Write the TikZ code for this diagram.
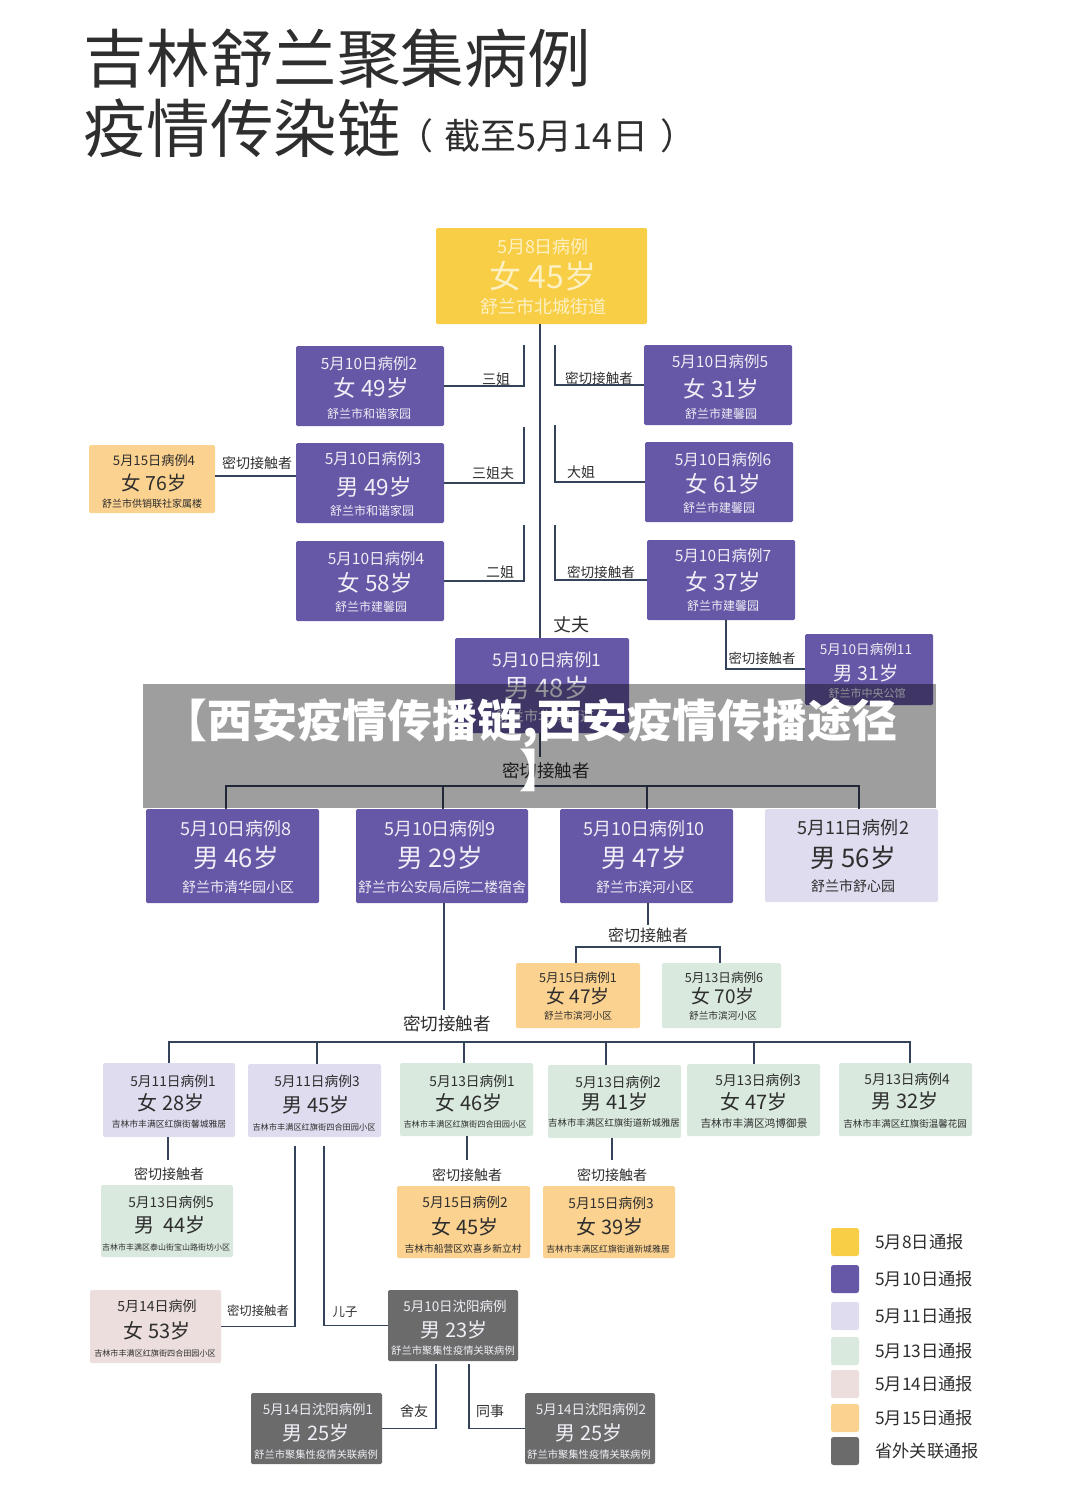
\documentclass[tikz,border=0pt]{standalone}
\usepackage{fontspec}
\setmainfont{Noto Sans CJK SC}
\usetikzlibrary{calc}
\definecolor{cyel}{HTML}{F8CE46}
\definecolor{cpur}{HTML}{6658A6}
\definecolor{clav}{HTML}{DEDCEE}
\definecolor{cgrn}{HTML}{D9E9DE}
\definecolor{cpnk}{HTML}{EBDEDC}
\definecolor{corg}{HTML}{FBD28F}
\definecolor{cgry}{HTML}{6B6B6B}
\definecolor{cline}{HTML}{34425A}
\definecolor{ctxt}{HTML}{2E2E2E}
\definecolor{cwht}{HTML}{F0EEF6}
\definecolor{cywt}{HTML}{FDF1C4}
\tikzset{
 boxb/.style={inner sep=0pt,outer sep=0pt,rounded corners=1.5pt,anchor=north west},
 conn/.style={draw=cline,line width=1.6pt,line join=miter},
 tag/.style={inner sep=0pt,outer sep=0pt,text=ctxt},
 dk/.style={text=ctxt},
 wh/.style={text=cwht},
 yw/.style={text=cywt}
}
% box: name x1 y1 x2 y2 fill
\newcommand{\cbox}[6]{\node[boxb,fill=#6,minimum width={(#4-#2)*1pt},minimum height={(#5-#3)*1pt}] (#1) at (#2,#3) {};}
% text: name style cx y size text
\newcommand{\ctx}[6]{\node[inner sep=0pt,outer sep=0pt,#2,font=\fontsize{#5}{#5}\selectfont] (#1) at (#3,#4) {#6};}
% label: name x y size text
\newcommand{\lab}[5]{\node[tag,font=\fontsize{#4}{#4}\selectfont] (#1) at (#2,#3) {#5};}
\begin{document}
\begin{tikzpicture}[x=1pt,y=-1pt]
\useasboundingbox (0,0) rectangle (1080,1494);
% title
\node[inner sep=0pt,text=ctxt,anchor=west,font=\fontsize{63.5}{63.5}\selectfont] (t1) at (83,59) {吉林舒兰聚集病例};
\node[inner sep=0pt,text=ctxt,anchor=west,font=\fontsize{63.5}{63.5}\selectfont] (t2) at (83,128) {疫情传染链};
\node[inner sep=0pt,text=ctxt,anchor=west,font=\fontsize{36}{36}\selectfont] (t3) at (397,136) {（\hspace{11pt}截至5月14日\hspace{12pt}）};
% boxes
\cbox{a0}{436}{228}{647}{324}{cyel}
\ctx{a0a}{yw}{543}{247}{18}{5月8日病例}
\ctx{a0b}{yw}{543}{276}{32}{女 45岁}
\ctx{a0c}{yw}{543}{307}{18}{舒兰市北城街道}
\cbox{n2}{296}{346}{444}{426}{cpur}
\ctx{n2a}{wh}{369}{364}{15.5}{5月10日病例2}
\ctx{n2b}{wh}{371}{388}{22.5}{女 49岁}
\ctx{n2c}{wh}{369}{414}{12}{舒兰市和谐家园}
\cbox{n3}{296}{443}{444}{523}{cpur}
\ctx{n3a}{wh}{373}{459}{15.5}{5月10日病例3}
\ctx{n3b}{wh}{374}{487}{22.5}{男 49岁}
\ctx{n3c}{wh}{372}{511}{12}{舒兰市和谐家园}
\cbox{n4}{296}{541}{444}{621}{cpur}
\ctx{n4a}{wh}{376}{559}{15.5}{5月10日病例4}
\ctx{n4b}{wh}{375}{583}{22.5}{女 58岁}
\ctx{n4c}{wh}{371}{607}{12}{舒兰市建馨园}
\cbox{n5}{644}{345}{792}{425}{cpur}
\ctx{n5a}{wh}{720}{362}{15.5}{5月10日病例5}
\ctx{n5b}{wh}{721}{389}{22.5}{女 31岁}
\ctx{n5c}{wh}{721}{414}{12}{舒兰市建馨园}
\cbox{n6}{645}{442}{793}{522}{cpur}
\ctx{n6a}{wh}{723}{460}{15.5}{5月10日病例6}
\ctx{n6b}{wh}{723}{484}{22.5}{女 61岁}
\ctx{n6c}{wh}{719}{508}{12}{舒兰市建馨园}
\cbox{n7}{647}{540}{795}{620}{cpur}
\ctx{n7a}{wh}{723}{556}{15.5}{5月10日病例7}
\ctx{n7b}{wh}{723}{582}{22.5}{女 37岁}
\ctx{n7c}{wh}{723}{606}{12}{舒兰市建馨园}
\cbox{n11}{805}{634}{933}{705}{cpur}
\ctx{n11a}{wh}{866}{649}{13.6}{5月10日病例11}
\ctx{n11b}{wh}{866}{673}{19.5}{男 31岁}
\ctx{n11c}{wh}{867}{693}{11}{舒兰市中央公馆}
\cbox{n1}{455}{638}{629}{733}{cpur}
\ctx{n1a}{wh}{547}{660}{17.5}{5月10日病例1}
\ctx{n1b}{wh}{547}{688}{25.5}{男 48岁}
\ctx{n1c}{wh}{545}{716}{14}{舒兰市北城街道}
\cbox{o4}{89}{445}{215}{513}{corg}
\ctx{o4a}{dk}{154}{460}{13.2}{5月15日病例4}
\ctx{o4b}{dk}{154}{483}{19.5}{女 76岁}
\ctx{o4c}{dk}{152}{504}{10}{舒兰市供销联社家属楼}
\cbox{n8}{146}{809}{319}{903}{cpur}
\ctx{n8a}{wh}{236}{829}{18}{5月10日病例8}
\ctx{n8b}{wh}{236}{858}{25.7}{男 46岁}
\ctx{n8c}{wh}{238}{887}{14}{舒兰市清华园小区}
\cbox{n9}{356}{809}{528}{903}{cpur}
\ctx{n9a}{wh}{440}{829}{18}{5月10日病例9}
\ctx{n9b}{wh}{440}{858}{25.7}{男 29岁}
\ctx{n9c}{wh}{442}{887}{14}{舒兰市公安局后院二楼宿舍}
\cbox{n10}{560}{809}{733}{903}{cpur}
\ctx{n10a}{wh}{644}{829}{18}{5月10日病例10}
\ctx{n10b}{wh}{644}{858}{25.7}{男 47岁}
\ctx{n10c}{wh}{645}{887}{14}{舒兰市滨河小区}
\cbox{l2}{765}{809}{938}{902}{clav}
\ctx{l2a}{dk}{853}{828}{18}{5月11日病例2}
\ctx{l2b}{dk}{853}{858}{25.7}{男 56岁}
\ctx{l2c}{dk}{853}{886}{14}{舒兰市舒心园}
\cbox{o1}{516}{963}{640}{1028}{corg}
\ctx{o1a}{dk}{578}{978}{12.5}{5月15日病例1}
\ctx{o1b}{dk}{578}{996}{19}{女 47岁}
\ctx{o1c}{dk}{578}{1016}{9.7}{舒兰市滨河小区}
\cbox{g6}{662}{963}{781}{1028}{cgrn}
\ctx{g6a}{dk}{724}{978}{12.6}{5月13日病例6}
\ctx{g6b}{dk}{723}{996}{19}{女 70岁}
\ctx{g6c}{dk}{723}{1016}{9.7}{舒兰市滨河小区}
\cbox{l1}{103}{1063}{235}{1137}{clav}
\ctx{l1a}{dk}{173}{1081}{13.7}{5月11日病例1}
\ctx{l1b}{dk}{171}{1103}{20}{女 28岁}
\ctx{l1c}{dk}{169}{1124}{8.8}{吉林市丰满区红旗街馨城雅居}
\cbox{l3}{248}{1064}{381}{1137}{clav}
\ctx{l3a}{dk}{317}{1081}{13.7}{5月11日病例3}
\ctx{l3b}{dk}{316}{1105}{20}{男 45岁}
\ctx{l3c}{dk}{314}{1127}{8.2}{吉林市丰满区红旗街四合田园小区}
\cbox{g1}{400}{1063}{533}{1136}{cgrn}
\ctx{g1a}{dk}{472}{1081}{13.7}{5月13日病例1}
\ctx{g1b}{dk}{469}{1103}{20}{女 46岁}
\ctx{g1c}{dk}{465}{1124}{8.2}{吉林市丰满区红旗街四合田园小区}
\cbox{g2}{548}{1065}{681}{1138}{cgrn}
\ctx{g2a}{dk}{618}{1082}{13.7}{5月13日病例2}
\ctx{g2b}{dk}{615}{1102}{20}{男 41岁}
\ctx{g2c}{dk}{614}{1123}{9.4}{吉林市丰满区红旗街道新城雅居}
\cbox{g3}{687}{1064}{820}{1136}{cgrn}
\ctx{g3a}{dk}{758}{1080}{13.7}{5月13日病例3}
\ctx{g3b}{dk}{754}{1102}{20}{女 47岁}
\ctx{g3c}{dk}{754}{1123}{10.7}{吉林市丰满区鸿博御景}
\cbox{g4}{839}{1063}{972}{1136}{cgrn}
\ctx{g4a}{dk}{907}{1079}{13.7}{5月13日病例4}
\ctx{g4b}{dk}{905}{1101}{20}{男 32岁}
\ctx{g4c}{dk}{905}{1124}{9.5}{吉林市丰满区红旗街温馨花园}
\cbox{g5}{101}{1185}{233}{1257}{cgrn}
\ctx{g5a}{dk}{171}{1202}{13.7}{5月13日病例5}
\ctx{g5b}{dk}{170}{1225}{20}{男\ \ 44岁}
\ctx{g5c}{dk}{166}{1247}{8}{吉林市丰满区泰山街宝山路街坊小区}
\cbox{o2}{397}{1186}{530}{1258}{corg}
\ctx{o2a}{dk}{465}{1202}{13.7}{5月15日病例2}
\ctx{o2b}{dk}{465}{1227}{20}{女 45岁}
\ctx{o2c}{dk}{463}{1249}{9.75}{吉林市船营区欢喜乡新立村}
\cbox{o3}{543}{1186}{675}{1258}{corg}
\ctx{o3a}{dk}{611}{1203}{13.7}{5月15日病例3}
\ctx{o3b}{dk}{610}{1227}{20}{女 39岁}
\ctx{o3c}{dk}{608}{1249}{8.8}{吉林市丰满区红旗街道新城雅居}
\cbox{p1}{90}{1290}{221}{1363}{cpnk}
\ctx{p1a}{dk}{157}{1306}{14}{5月14日病例}
\ctx{p1b}{dk}{157}{1331}{20}{女 53岁}
\ctx{p1c}{dk}{155}{1353}{8.1}{吉林市丰满区红旗街四合田园小区}
\cbox{s0}{388}{1290}{518}{1361}{cgry}
\ctx{s0a}{wh}{455}{1306}{13.5}{5月10日沈阳病例}
\ctx{s0b}{wh}{454}{1330}{20}{男 23岁}
\ctx{s0c}{wh}{453}{1351}{10.3}{舒兰市聚集性疫情关联病例}
\cbox{s1}{251}{1393}{382}{1464}{cgry}
\ctx{s1a}{wh}{318}{1409}{13.4}{5月14日沈阳病例1}
\ctx{s1b}{wh}{316}{1433}{20}{男 25岁}
\ctx{s1c}{wh}{316}{1455}{10.3}{舒兰市聚集性疫情关联病例}
\cbox{s2}{525}{1393}{655}{1464}{cgry}
\ctx{s2a}{wh}{591}{1409}{13.4}{5月14日沈阳病例2}
\ctx{s2b}{wh}{589}{1433}{20}{男 25岁}
\ctx{s2c}{wh}{589}{1455}{10.3}{舒兰市聚集性疫情关联病例}
% connector free ends
\coordinate (ja) at (540,630);
\coordinate (c2) at (524,345);
\coordinate (c3) at (524,427);
\coordinate (c4) at (524,525);
\coordinate (c5) at (555,345);
\coordinate (c6) at (555,425);
\coordinate (c7) at (555,525);
\coordinate (hop4) at (0,476);
\coordinate (c11) at (726,669);
\coordinate (k1) at (540,757);
\coordinate (k10) at (648,925);
\coordinate (k9) at (444,1010);
\coordinate (e1) at (168,1160);
\coordinate (e2) at (467,1160);
\coordinate (e3) at (612,1160);
\coordinate (u1) at (295,1146);
\coordinate (u2) at (324,1146);
\coordinate (v1) at (436,1364);
\coordinate (v2) at (469,1364);
% connectors
\draw[conn] (a0.south -| ja) -- (n1.north -| ja);
\draw[conn] (n2.east) -| (c2);
\draw[conn] (n3.east) -| (c3);
\draw[conn] (n4.east) -| (c4);
\draw[conn] (n5.west) -| (c5);
\draw[conn] (n6.west) -| (c6);
\draw[conn] (n7.west) -| (c7);
\draw[conn] (o4.east |- hop4) -- (n3.west |- hop4);
\draw[conn] (n7.south -| c11) -- (c11) -- (n11.west |- c11);
\draw[conn] (n1.south -| k1) -- (k1);
\draw[conn] (n8.north -| 226,0) -- (226,786) -- (859,786) -- (l2.north -| 859,0);
\draw[conn] (443,786) -- (n9.north -| 443,0);
\draw[conn] (647,786) -- (n10.north -| 647,0);
\draw[conn] (n10.south -| k10) -- (k10);
\draw[conn] (o1.north -| 576,0) -- (576,947) -- (720,947) -- (g6.north -| 720,0);
\draw[conn] (n9.south -| k9) -- (k9);
\draw[conn] (l1.north -| 169,0) -- (169,1042) -- (910,1042) -- (g4.north -| 910,0);
\draw[conn] (317,1042) -- (l3.north -| 317,0);
\draw[conn] (464,1042) -- (g1.north -| 464,0);
\draw[conn] (606,1042) -- (g2.north -| 606,0);
\draw[conn] (754,1042) -- (g3.north -| 754,0);
\draw[conn] (l1.south -| e1) -- (e1);
\draw[conn] (g1.south -| e2) -- (e2);
\draw[conn] (g2.south -| e3) -- (e3);
\draw[conn] (u1) |- (p1.east);
\draw[conn] (u2) |- (s0.west);
\draw[conn] (v1) |- (s1.east);
\draw[conn] (v2) |- (s2.west);
% connector labels
\lab{b1}{496}{379}{14}{三姐}
\lab{b2}{493}{473}{14}{三姐夫}
\lab{b3}{500}{572}{14}{二姐}
\lab{b4}{599}{378}{13.6}{密切接触者}
\lab{b5}{581}{472}{14}{大姐}
\lab{b6}{601}{572}{13.6}{密切接触者}
\lab{b7}{257}{463}{14}{密切接触者}
\lab{b8}{762}{658}{13.4}{密切接触者}
\lab{b9}{571}{625}{18}{丈夫}
\lab{b10}{546}{771}{17.6}{密切接触者}
\lab{b11}{648}{935}{16}{密切接触者}
\lab{b12}{447}{1024}{17.6}{密切接触者}
\lab{b13}{169}{1174}{14}{密切接触者}
\lab{b14}{467}{1175}{14}{密切接触者}
\lab{b15}{612}{1175}{14}{密切接触者}
\lab{b16}{258}{1311}{12.4}{密切接触者}
\lab{b17}{345}{1312}{12.4}{儿子}
\lab{b18}{414}{1411}{14}{舍友}
\lab{b19}{490}{1411}{14}{同事}
% legend
\foreach \nm/\yy/\cc/\tt in {m1/1228/cyel/5月8日通报,m2/1265/cpur/5月10日通报,m3/1302/clav/5月11日通报,m4/1337/cgrn/5月13日通报,m5/1370/cpnk/5月14日通报,m6/1404/corg/5月15日通报,m7/1437/cgry/省外关联通报}{
  \node[boxb,rounded corners=2.5pt,fill=\cc,minimum width=28pt,minimum height=28pt] (\nm) at (831,\yy) {};
  \node[inner sep=0pt,text=ctxt,anchor=west,font=\fontsize{17.3}{17.3}\selectfont] (\nm t) at (875,\yy+14) {\tt};
}
% banner
\fill[black,opacity=.38] (143,684) rectangle (936,808);
\node[inner sep=0pt,text=white,align=center,font=\fontsize{45}{50}\selectfont\bfseries] (ban) at (530,745) {【西安疫情传播链,西安疫情传播途径\\\hspace*{24pt}】};
\end{tikzpicture}
\end{document}
